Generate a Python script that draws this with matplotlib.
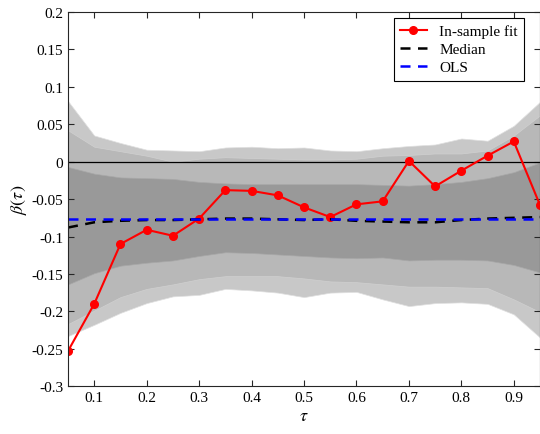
import numpy as np
import matplotlib
matplotlib.use('Agg')
from matplotlib import pyplot as plt

plt.rcParams['font.family'] = ['Liberation Serif', 'DejaVu Serif']
plt.rcParams['mathtext.fontset'] = 'stix'

tau = [0.05, 0.10, 0.15, 0.20, 0.25, 0.30, 0.35, 0.40, 0.45, 0.50,
       0.55, 0.60, 0.65, 0.70, 0.75, 0.80, 0.85, 0.90, 0.95]

# in-sample fit
fit = [-0.253, -0.190, -0.110, -0.091, -0.099, -0.076, -0.038, -0.039, -0.045, -0.061,
       -0.074, -0.057, -0.053, 0.001, -0.033, -0.012, 0.008, 0.027, -0.058]
median = [-0.088, -0.081, -0.079, -0.078, -0.078, -0.077, -0.076, -0.076, -0.077, -0.078,
          -0.077, -0.079, -0.080, -0.081, -0.081, -0.078, -0.076, -0.075, -0.074]
ols = [-0.077] * 19

# confidence bands (outer, middle, inner)
outer_hi = [0.081, 0.035, 0.025, 0.016, 0.015, 0.014, 0.019, 0.020, 0.018, 0.019,
            0.015, 0.014, 0.018, 0.021, 0.023, 0.031, 0.028, 0.048, 0.080]
outer_lo = [-0.233, -0.218, -0.202, -0.189, -0.180, -0.178, -0.170, -0.172, -0.175, -0.181,
            -0.175, -0.174, -0.184, -0.193, -0.189, -0.188, -0.190, -0.204, -0.235]
mid_hi = [0.042, 0.020, 0.014, 0.008, 0.000, 0.004, 0.006, 0.005, 0.004, 0.003,
          0.003, 0.004, 0.008, 0.009, 0.011, 0.011, 0.015, 0.035, 0.062]
mid_lo = [-0.217, -0.199, -0.181, -0.170, -0.164, -0.157, -0.153, -0.153, -0.153, -0.156,
          -0.160, -0.161, -0.164, -0.167, -0.167, -0.168, -0.169, -0.184, -0.201]
in_hi = [-0.007, -0.016, -0.021, -0.022, -0.023, -0.027, -0.029, -0.030, -0.030, -0.030,
         -0.030, -0.030, -0.031, -0.032, -0.030, -0.027, -0.022, -0.014, -0.001]
in_lo = [-0.164, -0.149, -0.139, -0.135, -0.132, -0.126, -0.121, -0.122, -0.124, -0.126,
         -0.128, -0.129, -0.128, -0.132, -0.131, -0.131, -0.132, -0.138, -0.148]

fig = plt.figure(figsize=(5.4, 4.35), dpi=100)
ax = fig.add_axes([0.126, 0.110, 0.874, 0.860])

ax.fill_between(tau, outer_lo, outer_hi, facecolor='#c8c8c8', edgecolor='#e0e0e0', linewidth=0.5)
ax.fill_between(tau, mid_lo, mid_hi, facecolor='#b8b8b8', edgecolor='#d0d0d0', linewidth=0.5)
ax.fill_between(tau, in_lo, in_hi, facecolor='#999999', edgecolor='#a8a8a8', linewidth=0.5)
ax.axhline(0, color='black', linewidth=0.9)

ax.plot(tau, fit, color='red', marker='o', markersize=5.5, linewidth=1.5, label='In-sample fit')
ax.plot(tau, median, color='black', linestyle='--', linewidth=1.8, dashes=(4, 3), label='Median')
ax.plot(tau, ols, color='#0000ff', linestyle='--', linewidth=1.8, dashes=(4, 3), label='OLS')

ax.set_xlim(0.05, 0.95)
ax.set_ylim(-0.3, 0.2)
ax.set_xticks([0.1, 0.2, 0.3, 0.4, 0.5, 0.6, 0.7, 0.8, 0.9])
ax.set_xticklabels(['0.1', '0.2', '0.3', '0.4', '0.5', '0.6', '0.7', '0.8', '0.9'])
ax.set_yticks(np.arange(-0.3, 0.2001, 0.05))
ax.set_yticklabels(['-0.3', '-0.25', '-0.2', '-0.15', '-0.1', '-0.05', '0', '0.05', '0.1', '0.15', '0.2'])
ax.tick_params(direction='in', top=True, right=True, labelsize=11, length=4, color='#262626')
for s in ax.spines.values():
    s.set_color('#262626')
    s.set_linewidth(0.8)

ax.set_xlabel(r'$\tau$', fontsize=13, labelpad=2)
ax.set_ylabel(r'$\beta(\tau)$', fontsize=13, labelpad=2)

leg = ax.legend(loc='upper right', fontsize=11, frameon=True, fancybox=False,
                edgecolor='black', framealpha=1, handlelength=1.8,
                bbox_to_anchor=(0.966, 0.984), borderaxespad=0,
                borderpad=0.4, labelspacing=0.3)
leg.get_frame().set_linewidth(0.8)

fig.savefig('out.png', dpi=100)
